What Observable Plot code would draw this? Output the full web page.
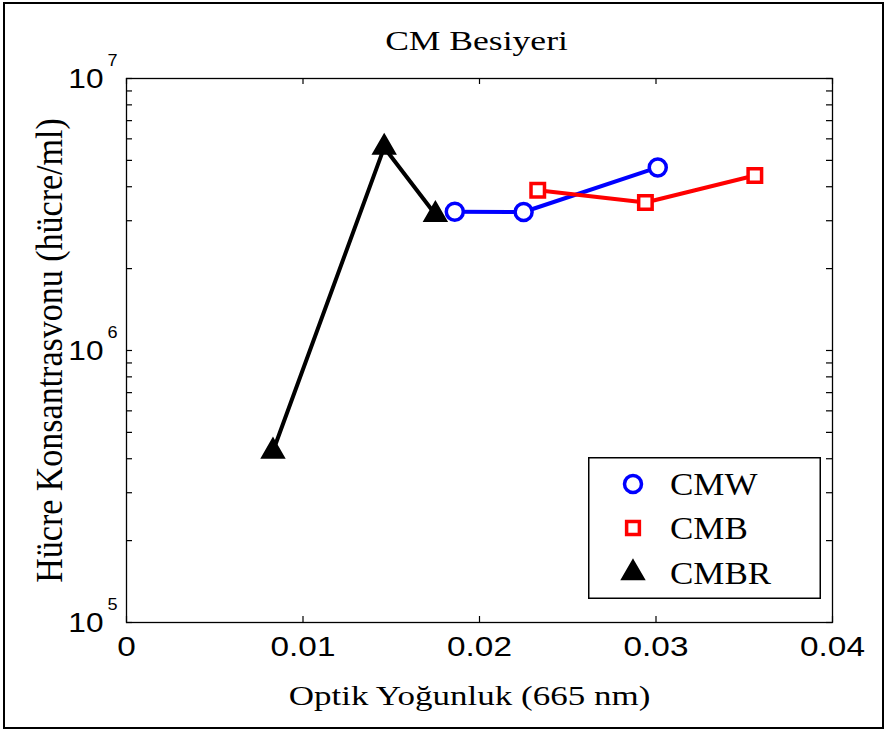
<!DOCTYPE html>
<html><head><meta charset="utf-8">
<script src="https://cdn.jsdelivr.net/npm/d3@7"></script>
<script src="https://cdn.jsdelivr.net/npm/@observablehq/plot@0.6"></script>
<style>
body{margin:0;background:#fff;}
#wrap{position:relative;width:887px;height:731px;overflow:hidden;background:#fff;}
#chart{position:absolute;left:0;top:0;}
#border{position:absolute;left:3px;top:2px;width:881px;height:727px;border:2px solid #000;box-sizing:border-box;pointer-events:none;}
#legend{position:absolute;left:588px;top:457px;width:233px;height:142px;}
</style></head>
<body><div id="wrap"><div id="chart"></div><div id="legend"></div><div id="border"></div></div>
<script>
// ---- data ----
const seriesNames = ["CMW", "CMB", "CMBR"];
const seriesColors = ["#0000ff", "#ff0000", "#000000"];
const seriesSymbols = ["circle", "square", "triangle"];
const cmwX = [0.0186, 0.0225, 0.0301];
const cmwY = [3.24e6, 3.23e6, 4.71e6];
const cmbX = [0.0233, 0.0294, 0.0356];
const cmbY = [3.88e6, 3.50e6, 4.40e6];
const cmbrX = [0.0083, 0.0146, 0.0175];
const cmbrY = [4.26e5, 5.58e6, 3.16e6];
const xTicks = [0, 0.01, 0.02, 0.03, 0.04];
const xTickLabels = ["0", "0.01", "0.02", "0.03", "0.04"];
const yMajor = [1e5, 1e6, 1e7];
const yMajorBase = ["10", "10", "10"];
const yMajorExp = ["5", "6", "7"];
const yMinorMult = [2, 3, 4, 5, 6, 7, 8, 9];
const titleText = "CM Besiyeri";
const xLabel = "Optik Yoğunluk (665 nm)";
const yLabel = "Hücre Konsantrasvonu (hücre/ml)";

// ---- build tables ----
const toRows = (xs, ys, s) => xs.map((x, i) => ({x, y: ys[i], s}));
const cmw = toRows(cmwX, cmwY, "CMW");
const cmb = toRows(cmbX, cmbY, "CMB");
const cmbr = toRows(cmbrX, cmbrY, "CMBR");
const yTickValues = [...yMajor];
yMajor.slice(0, -1).forEach(m => yMinorMult.forEach(k => yTickValues.push(m * k)));

const W = 887, H = 731, mL = 126, mR = 55, mT = 78, mB = 109;
const fW = W - mL - mR, fH = H - mT - mB;
const serif = "'Liberation Serif', 'Times New Roman', serif";
const sans = "'Liberation Sans', Arial, sans-serif";
const col = s => seriesColors[seriesNames.indexOf(s)];

function seriesMarks(data, name) {
  const c = col(name);
  const sym = seriesSymbols[seriesNames.indexOf(name)];
  const r = sym === "circle" ? 8.5 : sym === "square" ? 7.6 : 7.2;
  return [
    Plot.line(data, {x: "x", y: "y", stroke: c, strokeWidth: 4}),
    Plot.dot(data, {x: "x", y: "y", symbol: sym, r, stroke: c, strokeWidth: 3.5,
      fill: sym === "triangle" ? c : "white"})
  ];
}

const chart = Plot.plot({
  width: W, height: H,
  marginLeft: mL, marginRight: mR, marginTop: mT, marginBottom: mB,
  style: {background: "transparent", fontFamily: sans, color: "black"},
  x: {domain: [0, 0.04], axis: null},
  y: {type: "log", domain: [1e5, 1e7], axis: null},
  marks: [
    ...seriesMarks(cmbr, "CMBR"),
    ...seriesMarks(cmw, "CMW"),
    ...seriesMarks(cmb, "CMB"),
    Plot.tickX(xTicks, {x: d => d, insetTop: fH - 6, stroke: "black", strokeWidth: 1.2}),
    Plot.tickX(xTicks, {x: d => d, insetBottom: fH - 6, stroke: "black", strokeWidth: 1.2}),
    Plot.tickY(yTickValues, {y: d => d, insetRight: fW - 6, stroke: "black", strokeWidth: 1.2}),
    Plot.tickY(yTickValues, {y: d => d, insetLeft: fW - 6, stroke: "black", strokeWidth: 1.2}),
    Plot.frame({stroke: "black", strokeWidth: 1.3}),
    Plot.text(xTicks, {x: d => d, text: (d, i) => xTickLabels[i], frameAnchor: "bottom", lineAnchor: "middle", textAnchor: "middle", dy: 25, fontSize: 28, fontFamily: sans, fill: "black"}),
    Plot.text(yMajor, {y: d => d, text: (d, i) => yMajorBase[i], frameAnchor: "left", lineAnchor: "middle", textAnchor: "end", dx: -23, dy: 1, fontSize: 28, fontFamily: sans, fill: "black"}),
    Plot.text(yMajor, {y: d => d, text: (d, i) => yMajorExp[i], frameAnchor: "left", lineAnchor: "middle", textAnchor: "start", dx: -19, dy: -18, fontSize: 16, fontFamily: sans, fill: "black"}),
    Plot.text([titleText], {text: d => d, frameAnchor: "top", lineAnchor: "middle", textAnchor: "middle", dx: -3, dy: -37, fontSize: 28, fontFamily: serif, fill: "black"}),
    Plot.text([xLabel], {text: d => d, frameAnchor: "bottom", lineAnchor: "middle", textAnchor: "middle", dx: -10, dy: 74, fontSize: 28, fontFamily: serif, fill: "black"}),
    Plot.text([yLabel], {text: d => d, frameAnchor: "left", lineAnchor: "middle", textAnchor: "middle", rotate: -90, dx: -76, fontSize: 34, fontFamily: serif, fill: "black"})
  ]
});
document.getElementById("chart").appendChild(chart);

// horizontal glyph stretch, matching the reference's aspect (scaled about each text's anchor)
const stretch = [[1.19, 1], [1.13, 1], [1.13, 1], [1.27, 1], [1.25, 1], [1, 1.1]];
const textGroups = chart.querySelectorAll("g[aria-label='text']");
textGroups.forEach((g, gi) => {
  const [sx, sy] = stretch[gi] || [1, 1];
  g.querySelectorAll("text").forEach(t => {
    let tx = parseFloat(t.getAttribute("x"));
    if (!isFinite(tx)) tx = 0;
    const base = t.getAttribute("transform") || "";
    t.setAttribute("transform", `${base} translate(${tx},0) scale(${sx},${sy}) translate(${-tx},0)`.trim());
  });
});

// ---- legend ----
const lg = d3.select("#legend").append("svg").attr("width", 233).attr("height", 142);
lg.append("rect").attr("x", 0.75).attr("y", 0.75).attr("width", 231.5).attr("height", 140.5)
  .attr("fill", "white").attr("stroke", "black").attr("stroke-width", 1.5);
const symMap = {circle: d3.symbolCircle, square: d3.symbolSquare, triangle: d3.symbolTriangle};
const rowY = [27, 71, 116];
seriesNames.forEach((name, i) => {
  const sym = seriesSymbols[i];
  const r = sym === "circle" ? 8.5 : 7.2;
  const g = lg.append("g").attr("transform", `translate(45,${rowY[i]})`);
  g.append("path").attr("d", d3.symbol(symMap[sym], Math.PI * r * r)())
    .attr("fill", sym === "triangle" ? seriesColors[i] : "white")
    .attr("stroke", seriesColors[i]).attr("stroke-width", 3.5);
  lg.append("text").attr("transform", `translate(82,${rowY[i]}) scale(1.13,1)`).attr("dy", "0.34em")
    .attr("font-family", serif).attr("font-size", 31).attr("fill", "black").text(name);
});
</script>
</body></html>
